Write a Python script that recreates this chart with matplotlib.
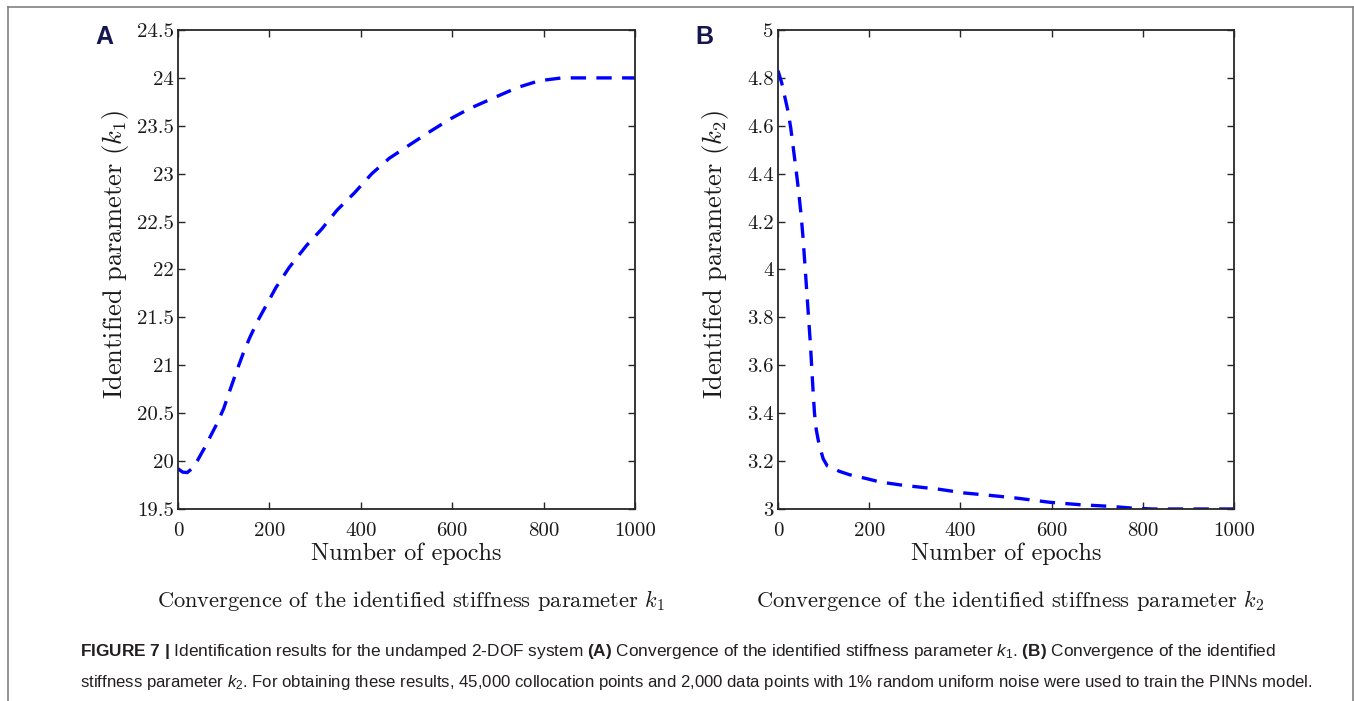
import matplotlib
matplotlib.use("Agg")
import matplotlib.pyplot as plt
from matplotlib.lines import Line2D

# k1 identificado frente a las epocas
epochs_k1 = [0, 10, 20, 30, 43, 57, 71, 85, 100, 115, 129, 143, 157, 175, 190, 214,
             243, 281, 314, 348, 386, 424, 462, 500, 548, 595, 638, 690, 743, 790,
             840, 900, 1000]
k1_vals = [19.92, 19.885, 19.88, 19.92, 20.01, 20.13, 20.26, 20.39, 20.55, 20.76,
           20.95, 21.13, 21.29, 21.47, 21.60, 21.81, 22.02, 22.25, 22.42, 22.62,
           22.80, 23.00, 23.16, 23.28, 23.43, 23.57, 23.68, 23.79, 23.90, 23.97,
           24.00, 24.00, 24.00]

# k2 identificado frente a las epocas
epochs_k2 = [0, 8, 15, 22, 28, 34, 40, 45, 51, 55, 59, 63, 67, 71, 74, 77, 80, 84,
             90, 99, 108, 135, 157, 194, 223, 274, 351, 408, 464, 521, 596, 662,
             728, 775, 820, 900, 1000]
k2_vals = [4.83, 4.78, 4.72, 4.66, 4.59, 4.50, 4.41, 4.33, 4.22, 4.13, 4.02, 3.91,
           3.80, 3.69, 3.59, 3.49, 3.40, 3.33, 3.27, 3.21, 3.18, 3.157, 3.143,
           3.127, 3.113, 3.099, 3.083, 3.067, 3.057, 3.046, 3.028, 3.018, 3.011,
           3.004, 3.000, 3.000, 3.000]

k1_ticks = [19.5, 20, 20.5, 21, 21.5, 22, 22.5, 23, 23.5, 24, 24.5]
k1_ticklabels = ["19.5", "20", "20.5", "21", "21.5", "22", "22.5", "23", "23.5", "24", "24.5"]
k2_ticks = [3, 3.2, 3.4, 3.6, 3.8, 4, 4.2, 4.4, 4.6, 4.8, 5]
k2_ticklabels = ["3", "3.2", "3.4", "3.6", "3.8", "4", "4.2", "4.4", "4.6", "4.8", "5"]
epoch_ticks = [0, 200, 400, 600, 800, 1000]

plt.rcParams["mathtext.fontset"] = "custom"
plt.rcParams["mathtext.rm"] = "Liberation Sans"
plt.rcParams["mathtext.it"] = "Liberation Sans:italic"
plt.rcParams["mathtext.bf"] = "Liberation Sans:bold"

fig = plt.figure(figsize=(13.54, 7.01), dpi=100)

SERIF = "cmr10"
ink = "#262626"

def panel(rect, x, y, ticks, ticklabels, ylim, ylabel, sub, letter):
    ax = fig.add_axes(rect)
    ax.plot(x, y, color="#0000ff", lw=2.4, linestyle=(0, (4.6, 3.1)), solid_capstyle="butt")
    ax.set_xlim(0, 1000)
    ax.set_ylim(*ylim)
    ax.set_xticks(epoch_ticks)
    ax.set_xticklabels([str(t) for t in epoch_ticks], fontfamily=SERIF, fontsize=15)
    ax.set_yticks(ticks)
    ax.set_yticklabels(ticklabels, fontfamily=SERIF, fontsize=15)
    ax.tick_params(direction="in", length=5, width=1.0, color=ink, labelcolor="#1a1a1a",
                   top=True, right=True, pad=3)
    ax.tick_params(axis="x", pad=9.5)
    for s in ax.spines.values():
        s.set_color(ink)
        s.set_linewidth(1.3)
    ax.set_xlabel("Number of epochs", fontfamily=SERIF, fontsize=17.4, color="#1a1a1a", labelpad=1.5)
    ax.set_ylabel(ylabel, fontfamily=SERIF, fontsize=19, color="#1a1a1a", math_fontfamily="cm")
    ax.yaxis.set_label_coords(-0.102, 0.532)
    ax.text(0.51, -0.205, "Convergence of the identified stiffness parameter " + sub,
            transform=ax.transAxes, ha="center", va="baseline", fontfamily=SERIF,
            fontsize=16.2, color="#1a1a1a", math_fontfamily="cm")
    ax.text(-0.162, 0.985, letter, transform=ax.transAxes, ha="center", va="center",
            fontfamily="Liberation Sans", fontweight="bold", fontsize=18, color="#16164f")
    return ax

panel([0.1315, 0.2739, 0.3375, 0.6833], epochs_k1, k1_vals, k1_ticks, k1_ticklabels,
      (19.5, 24.5), r"Identified parameter $(k_1)$", r"$k_1$", "A")
panel([0.5746, 0.2739, 0.3368, 0.6833], epochs_k2, k2_vals, k2_ticks, k2_ticklabels,
      (3, 5), r"Identified parameter $(k_2)$", r"$k_2$", "B")

# marco gris
W, H = 1354.0, 701.0
frame = dict(color="#808080", lw=1.2, transform=fig.transFigure)
fig.add_artist(Line2D([8 / W, 8 / W], [0, 1 - 6.5 / H], **frame))
fig.add_artist(Line2D([8 / W, 1352.5 / W], [1 - 6.5 / H, 1 - 6.5 / H], **frame))
fig.add_artist(Line2D([1352.5 / W, 1352.5 / W], [0, 1 - 6.5 / H], **frame))

line1 = (r"$\mathbf{FIGURE\ 7\ |}$ Identification results for the undamped 2-DOF system "
         r"$\mathbf{(A)}$ Convergence of the identified stiffness parameter $k_1$. "
         r"$\mathbf{(B)}$ Convergence of the identified")
line2 = (r"stiffness parameter $k_2$. For obtaining these results, 45,000 collocation points "
         r"and 2,000 data points with 1% random uniform noise were used to train the PINNs model.")
fig.text(80 / W, 1 - 656 / H, line1, ha="left", va="baseline", fontfamily="Liberation Sans",
         fontsize=12.4, color="#231f20")
fig.text(80 / W, 1 - 687 / H, line2, ha="left", va="baseline", fontfamily="Liberation Sans",
         fontsize=12.1, color="#231f20")

fig.savefig("out.png", dpi=100)
